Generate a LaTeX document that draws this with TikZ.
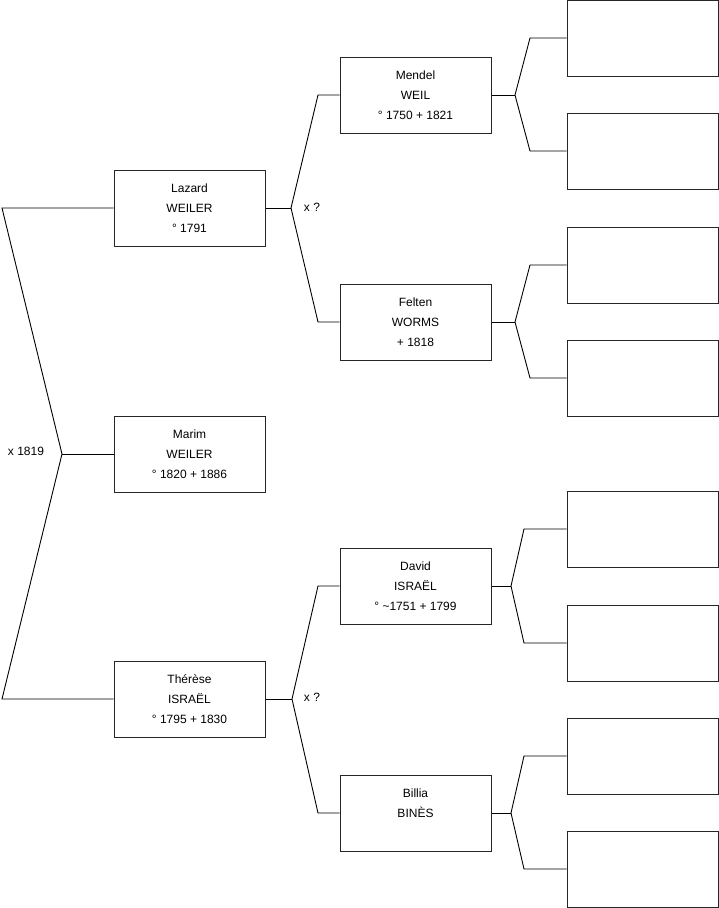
\documentclass[tikz,border=0pt]{standalone}
\usepackage{fontspec}
\setmainfont{Liberation Sans}
\begin{document}
\begin{tikzpicture}[x=1pt,y=-1pt,
  person/.style={draw=black!85, line width=1pt, minimum width=151pt, minimum height=76pt, inner sep=0pt, align=center, font=\fontsize{12}{20}\selectfont},
  link/.style={draw=black, line width=0.9pt},
  lbl/.style={font=\fontsize{12}{14}\selectfont, inner sep=0pt}]
\useasboundingbox (0,0) rectangle (719,908);
% generation 1
\node[person] (marim) at (189.5,454) {Marim\\WEILER\\° 1820 + 1886};
% generation 2
\node[person] (lazard) at (189.5,208) {Lazard\\WEILER\\° 1791};
\node[person] (therese) at (189.5,699) {Thérèse\\ISRAËL\\° 1795 + 1830};
% generation 3
\node[person] (mendel) at (415.5,95) {Mendel\\WEIL\\° 1750 + 1821};
\node[person] (felten) at (415.5,322) {Felten\\WORMS\\+ 1818};
\node[person] (david) at (415.5,586) {David\\ISRAËL\\° \textasciitilde1751 + 1799};
\node[person] (billia) at (415.5,813) {Billia\\BINÈS\\\mbox{}};
% generation 4
\node[person] (r1) at (642.5,38) {};
\node[person] (r2) at (642.5,151) {};
\node[person] (r3) at (642.5,265) {};
\node[person] (r4) at (642.5,378) {};
\node[person] (r5) at (642.5,529) {};
\node[person] (r6) at (642.5,643) {};
\node[person] (r7) at (642.5,756) {};
\node[person] (r8) at (642.5,869) {};
% first fork
\coordinate (f0) at (62,454);
\coordinate (tl) at (2,208);
\coordinate (bl) at (2,699);
\draw[link] (marim.west) -- (f0);
\draw[link] (lazard.west) -- (tl) -- (f0) -- (bl) -- (therese.west);
\node[lbl] (m0) at (26,451) {x 1819};
% Lazard fork
\coordinate (f1) at (291,208);
\coordinate (f1a) at (318,95);
\coordinate (f1b) at (318,322);
\draw[link] (lazard.east) -- (f1);
\draw[link] (mendel.west) -- (f1a) -- (f1) -- (f1b) -- (felten.west);
\node[lbl] (m1) at (312,207) {x ?};
% Therese fork
\coordinate (f2) at (292,699);
\coordinate (f2a) at (318,586);
\coordinate (f2b) at (318,813);
\draw[link] (therese.east) -- (f2);
\draw[link] (david.west) -- (f2a) -- (f2) -- (f2b) -- (billia.west);
\node[lbl] (m2) at (312,697) {x ?};
% Mendel fork
\coordinate (f3) at (515,95);
\coordinate (f3a) at (530,38);
\coordinate (f3b) at (530,151);
\draw[link] (mendel.east) -- (f3);
\draw[link] (r1.west) -- (f3a) -- (f3) -- (f3b) -- (r2.west);
% Felten fork
\coordinate (f4) at (515,322);
\coordinate (f4a) at (530,265);
\coordinate (f4b) at (530,378);
\draw[link] (felten.east) -- (f4);
\draw[link] (r3.west) -- (f4a) -- (f4) -- (f4b) -- (r4.west);
% David fork
\coordinate (f5) at (511,586);
\coordinate (f5a) at (524,529);
\coordinate (f5b) at (524,643);
\draw[link] (david.east) -- (f5);
\draw[link] (r5.west) -- (f5a) -- (f5) -- (f5b) -- (r6.west);
% Billia fork
\coordinate (f6) at (511,813);
\coordinate (f6a) at (524,756);
\coordinate (f6b) at (524,869);
\draw[link] (billia.east) -- (f6);
\draw[link] (r7.west) -- (f6a) -- (f6) -- (f6b) -- (r8.west);
\end{tikzpicture}
\end{document}
